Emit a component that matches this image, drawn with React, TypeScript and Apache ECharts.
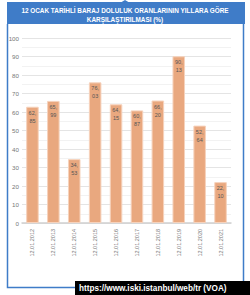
import React, { useEffect, useRef } from "react";
import * as echarts from "echarts";

const categories = [
  "12.01.2012", "12.01.2013", "12.01.2014", "12.01.2015", "12.01.2016",
  "12.01.2017", "12.01.2018", "12.01.2019", "12.01.2020", "12.01.2021",
];
const values = [62.85, 65.99, 34.53, 76.03, 64.15, 60.87, 66.2, 90.13, 52.64, 22.1];
const titleLines = [
  "12 OCAK TARİHLİ BARAJ DOLULUK ORANLARININ YILLARA GÖRE",
  "KARŞILAŞTIRILMASI (%)",
];
const sourceText = "https://www.iski.istanbul/web/tr (VOA)";

const BLUE = "#3f7cc8";

export default function App() {
  const ref = useRef<HTMLDivElement>(null);
  useEffect(() => {
    document.body.style.margin = "0";
    const chart = echarts.init(ref.current!, null, { renderer: "svg" });
    chart.setOption({
      animation: false,
      backgroundColor: "#ffffff",
      grid: { left: 22, right: 19, top: 38, bottom: 72 },
      xAxis: {
        type: "category",
        data: categories,
        axisLine: { lineStyle: { color: "#cfcfcf", width: 1.5 } },
        axisTick: { show: false },
        axisLabel: {
          rotate: 90,
          fontSize: 5.5,
          color: "#777",
          margin: 6,
          fontFamily: "Liberation Sans",
        },
      },
      yAxis: {
        type: "value",
        min: 0,
        max: 100,
        interval: 10,
        axisLine: { show: false },
        axisTick: { show: false },
        axisLabel: { fontSize: 6.2, color: "#777", margin: 3, fontFamily: "Liberation Sans" },
        splitLine: { lineStyle: { color: "#e4e4e4", width: 1 } },
        minorTick: { show: false, splitNumber: 2 },
        minorSplitLine: { show: true, lineStyle: { color: "#f2f2f2", width: 1 } },
      },
      series: [
        {
          type: "bar",
          data: values,
          barWidth: "60%",
          itemStyle: { color: "#e9a87f", borderColor: "#f6d2bc", borderWidth: 1 },
          label: {
            show: true,
            position: "insideTop",
            distance: 2,
            fontSize: 5.5,
            lineHeight: 8,
            color: "#555",
            fontFamily: "Liberation Sans",
            formatter: (p: any) => {
              const s = p.value.toFixed(2).split(".");
              return s[0] + ",\n" + s[1];
            },
          },
        },
      ],
      graphic: [
        {
          type: "polygon",
          shape: { points: [[120, 3], [125, 0], [130, 3]] },
          style: { fill: BLUE },
        },
        {
          type: "rect",
          shape: { x: 7, y: 2, width: 238, height: 22 },
          style: { fill: BLUE },
        },
        {
          type: "text",
          x: 125,
          y: 10,
          style: {
            text: titleLines[0],
            fill: "#ffffff",
            font: "bold 6.4px 'Liberation Sans'",
            align: "center",
            verticalAlign: "middle",
          },
        },
        {
          type: "text",
          x: 125,
          y: 19,
          style: {
            text: titleLines[1],
            fill: "#ffffff",
            font: "bold 6.4px 'Liberation Sans'",
            align: "center",
            verticalAlign: "middle",
          },
        },
        {
          type: "polyline",
          shape: { points: [[7.5, 24], [7.5, 287.5], [243.5, 287.5], [243.5, 24]] },
          style: { stroke: BLUE, lineWidth: 1.5, fill: "none" },
        },
        {
          type: "rect",
          shape: { x: 75, y: 281, width: 175, height: 14 },
          style: { fill: "#000000" },
        },
        {
          type: "text",
          x: 79,
          y: 288.5,
          style: {
            text: sourceText,
            fill: "#ffffff",
            font: "bold 8.2px 'Liberation Sans'",
            align: "left",
            verticalAlign: "middle",
          },
        },
      ],
    });
    return () => chart.dispose();
  }, []);
  return <div ref={ref} style={{ width: 250, height: 295 }} />;
}
